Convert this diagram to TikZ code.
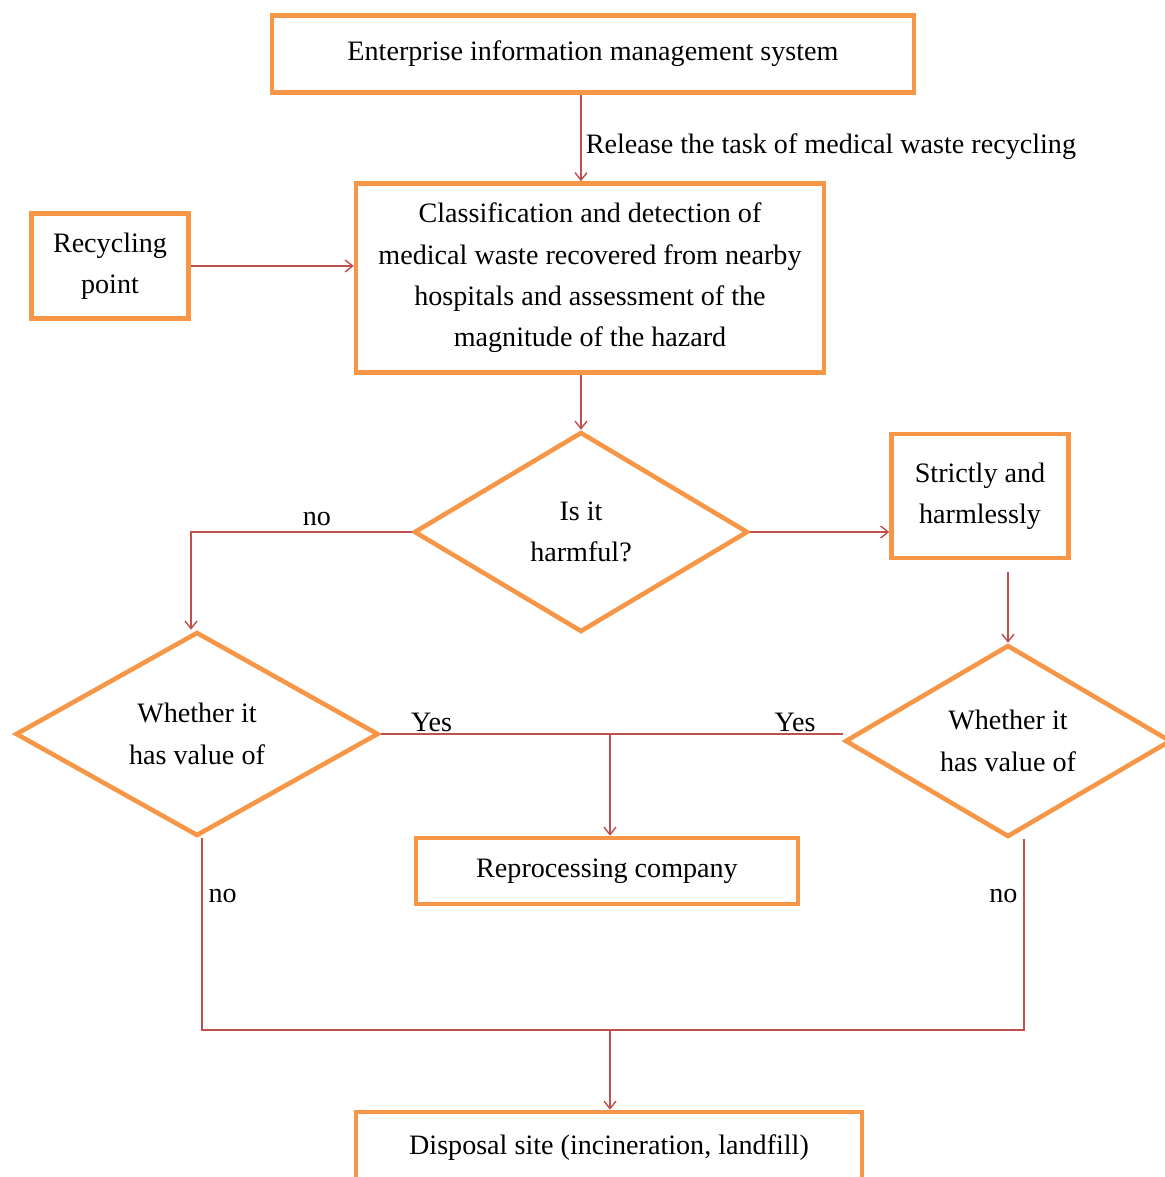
\documentclass[tikz,border=0pt]{standalone}
\usepackage{fontspec}
\setmainfont{Liberation Serif}
\usetikzlibrary{arrows.meta, shapes.geometric, positioning, calc}

\definecolor{boxorange}{RGB}{247,150,70}
\definecolor{linkred}{RGB}{192,80,77}

\begin{document}
\begin{tikzpicture}[
	x=0.02cm, y=-0.02cm,
	every node/.style={font=\fontsize{16}{23.5}\selectfont},
	block/.style={
		rectangle, draw=boxorange, line width=2.6pt,
		inner sep=0pt, align=center
	},
	decision/.style={
		diamond, draw=boxorange, line width=2.6pt,
		aspect=1.6, inner sep=0pt, align=center
	},
	arrow/.style={-{Straight Barb[length=1.5mm, width=2.4mm]}, draw=linkred, line width=0.8pt},
	link/.style={draw=linkred, line width=0.8pt}
	]
	
	\useasboundingbox (0,0) rectangle (1165,1177);
	
	% Nodes
	\node[block, minimum width=12.84cm, minimum height=1.54cm] (eims) at (593,54) {Enterprise information management system};
	\node[block, minimum width=9.36cm, minimum height=3.78cm] (classify) at (590,278) {Classification and detection of\\ medical waste recovered from nearby\\ hospitals and assessment of the\\ magnitude of the hazard};
	\node[block, minimum width=3.14cm, minimum height=2.1cm] (recpoint) at (110,266) {Recycling\\ point};
	\node[decision, minimum width=6.68cm, minimum height=4cm] (harmful) at (581,532) {Is it\\ harmful?};
	\node[block, minimum width=3.54cm, minimum height=2.48cm] (strict) at (980,496) {\raisebox{3pt}{Strictly and}\\ \raisebox{3pt}{harmlessly}};
	\node[decision, minimum width=7.26cm, minimum height=4.08cm] (valleft) at (197,734) {Whether it\\ has value of};
	\node[decision, minimum width=6.52cm, minimum height=3.84cm] (valright) at (1008,741) {Whether it\\ has value of};
	\node[block, minimum width=7.64cm, minimum height=1.32cm] (reproc) at (607,871) {Reprocessing company};
	\node[block, minimum width=10.12cm, minimum height=1.44cm] (disposal) at (609,1148) {Disposal site (incineration, landfill)};
	\coordinate (merge) at (610,1030);
	
	% Arrows with labels
	\draw[arrow] (eims.south -| harmful.north) -- node[right, xshift=-1pt, pos=0.6] {Release the task of medical waste recycling} (classify.north -| harmful.north);
	\draw[arrow] (recpoint.east) -- (recpoint.east -| classify.west);
	\draw[arrow] (classify.south -| harmful.north) -- (harmful.north);
	\draw[arrow] (harmful.east) -- (harmful.east -| strict.west);
	\draw[arrow] ([yshift=-0.24cm]strict.south -| valright.north) -- (valright.north);
	\draw[arrow] (harmful.west) -- node[above, pos=0.43] {no} ([xshift=-0.12cm]harmful.west -| valleft.north) -- ([xshift=-0.12cm]valleft.north);
	\draw[link] (valleft.east) -- node[above, pos=0.11, inner sep=1pt] {Yes} (valleft.east -| valright.west);
	\draw[arrow] (valleft.east -| merge) -- (reproc.north -| merge);
	\draw[link] ([xshift=0.1cm]valleft.south) -- node[right, pos=0.3] {no} ([xshift=0.1cm]valleft.south |- merge) -- ([xshift=0.32cm]valright.south |- merge) -- node[left, pos=0.7] {no} ([xshift=0.32cm]valright.south);
	\draw[arrow] (merge) -- (disposal.north -| merge);
	\path (valleft.east -| valright.west) node[above left, inner sep=1pt, xshift=-0.5cm] {Yes};
	
\end{tikzpicture}
\end{document}
